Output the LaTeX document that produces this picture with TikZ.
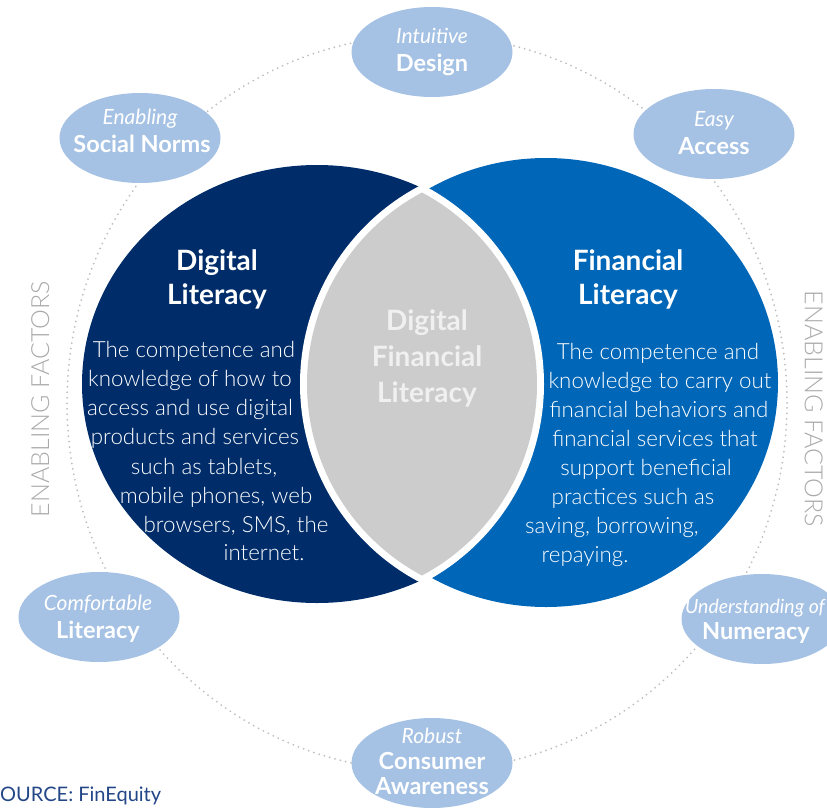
\documentclass[tikz,border=0pt]{standalone}
\usepackage{fontspec}
\setmainfont{Lato}
\IfFontExistsTF{Lato Light}{\newfontfamily\lightfont{Lato Light}}{\newfontfamily\lightfont{Lato}}
\usetikzlibrary{shapes.geometric}
\definecolor{navy}{RGB}{0,45,106}
\definecolor{fblue}{RGB}{0,102,184}
\definecolor{lensgray}{RGB}{204,204,204}
\definecolor{bubble}{RGB}{165,194,228}
\definecolor{lenstext}{RGB}{240,240,240}
\definecolor{enabgray}{RGB}{170,170,170}
\definecolor{dotgray}{RGB}{190,190,190}
\definecolor{srcblue}{RGB}{35,70,135}
\begin{document}
\begin{tikzpicture}[x=1pt,y=-1pt,
  txt/.style={inner sep=0pt, text height=1.2ex, text depth=0pt, anchor=center, yshift=-4.5pt},
  body/.style={txt, text=white, font=\lightfont\fontsize{22.3}{26}\selectfont},
  title/.style={txt, text=white, font=\bfseries\fontsize{28}{32}\selectfont},
  lenst/.style={txt, text=lenstext, font=\bfseries\fontsize{28}{32}\selectfont},
  bubit/.style={txt, text=white, font=\itshape\fontsize{21}{24}\selectfont},
  bubbd/.style={txt, text=white, font=\bfseries\fontsize{23.5}{27}\selectfont},
  bub/.style={ellipse, fill=bubble, minimum width=161pt, minimum height=90pt, inner sep=0pt},
  bigc/.style={ellipse, inner sep=0pt},
  ring/.style={draw=dotgray, line width=2pt, line cap=round, dash pattern=on 0pt off 5.5pt},
  enab/.style={inner sep=0pt, text height=1.2ex, text depth=0pt, anchor=center, text=enabgray, font=\lightfont\fontsize{25}{28}\selectfont}
]
\useasboundingbox (0,0) rectangle (827,808);
% dotted ring
\draw[ring] (427,403) ellipse [x radius=360pt, y radius=368pt];
% big circles
\node[bigc, fill=navy, minimum width=470pt, minimum height=438pt] (dig) at (317,384) {};
\node[bigc, fill=fblue, minimum width=464pt, minimum height=449pt] (fin) at (546,382.5) {};
% lens with white border
\begin{scope}
  \clip (523.9,384) circle [radius=223.9pt];
  \fill[white] (320.1,384) circle [radius=223.9pt];
\end{scope}
\begin{scope}
  \clip (523.9,384) circle [radius=216.9pt];
  \fill[lensgray] (320.1,384) circle [radius=216.9pt];
\end{scope}
% bubbles
\node[bub] (design) at (432,52) {};
\node[bub] (norms) at (140,138) {};
\node[bub] (access) at (714,134) {};
\node[bub] (comfort) at (99,617) {};
\node[bub] (numer) at (762,619) {};
\node[bub] (consum) at (432,763) {};
% bubble texts
\node[bubit] (designa) at (432,36) {Intuitive};
\node[bubbd] (designb) at (432,64) {Design};
\node[bubit] (normsa) at (140,117) {Enabling};
\node[bubbd] (normsb) at (142,145) {Social Norms};
\node[bubit] (accessa) at (714,119) {Easy};
\node[bubbd] (accessb) at (714,147) {Access};
\node[bubit] (comforta) at (98,603) {Comfortable};
\node[bubbd] (comfortb) at (98,631) {Literacy};
\node[bubit, font=\itshape\fontsize{19.5}{22}\selectfont] (numera) at (755,606) {Understanding of};
\node[bubbd] (numerb) at (756,632) {Numeracy};
\node[bubit] (consuma) at (432,736) {Robust};
\node[bubbd] (consumb) at (432,762) {Consumer};
\node[bubbd] (consumc) at (432,787) {Awareness};
% titles
\node[title] (dta) at (217,263) {Digital};
\node[title] (dtb) at (217,297) {Literacy};
\node[title] (fta) at (628,263) {Financial};
\node[title] (ftb) at (628,297) {Literacy};
\node[lenst] (lta) at (427,323) {Digital};
\node[lenst] (ltb) at (427,359) {Financial};
\node[lenst] (ltc) at (427,395) {Literacy};
% left body
\node[body] (dl1) at (194,350) {The competence and};
\node[body] (dl2) at (190,379) {knowledge of how to};
\node[body] (dl3) at (190,408) {access and use digital};
\node[body] (dl4) at (195,437) {products and services};
\node[body] (dl5) at (204,467) {such as tablets,};
\node[body] (dl6) at (216,496) {mobile phones, web};
\node[body] (dl7) at (236,525) {browsers, SMS, the};
\node[body] (dl8) at (264,553) {internet.};
% right body
\node[body] (fl1) at (658,352) {The competence and};
\node[body] (fl2) at (660,381) {knowledge to carry out};
\node[body] (fl3) at (659,410) {financial behaviors and};
\node[body] (fl4) at (655,439) {financial services that};
\node[body] (fl5) at (646,468) {support beneficial};
\node[body] (fl6) at (633,497) {practices such as};
\node[body] (fl7) at (612,526) {saving, borrowing,};
\node[body] (fl8) at (585,555) {repaying.};
% enabling factors
\node[enab, rotate=90] (efl) at (46,399) {ENABLING FACTORS};
\node[enab, rotate=-90] (efr) at (808,409) {ENABLING FACTORS};
% source
\node[inner sep=0pt, anchor=base west, text=srcblue, font=\fontsize{20}{22}\selectfont] (src) at (0,801) {OURCE: FinEquity};
\end{tikzpicture}
\end{document}
